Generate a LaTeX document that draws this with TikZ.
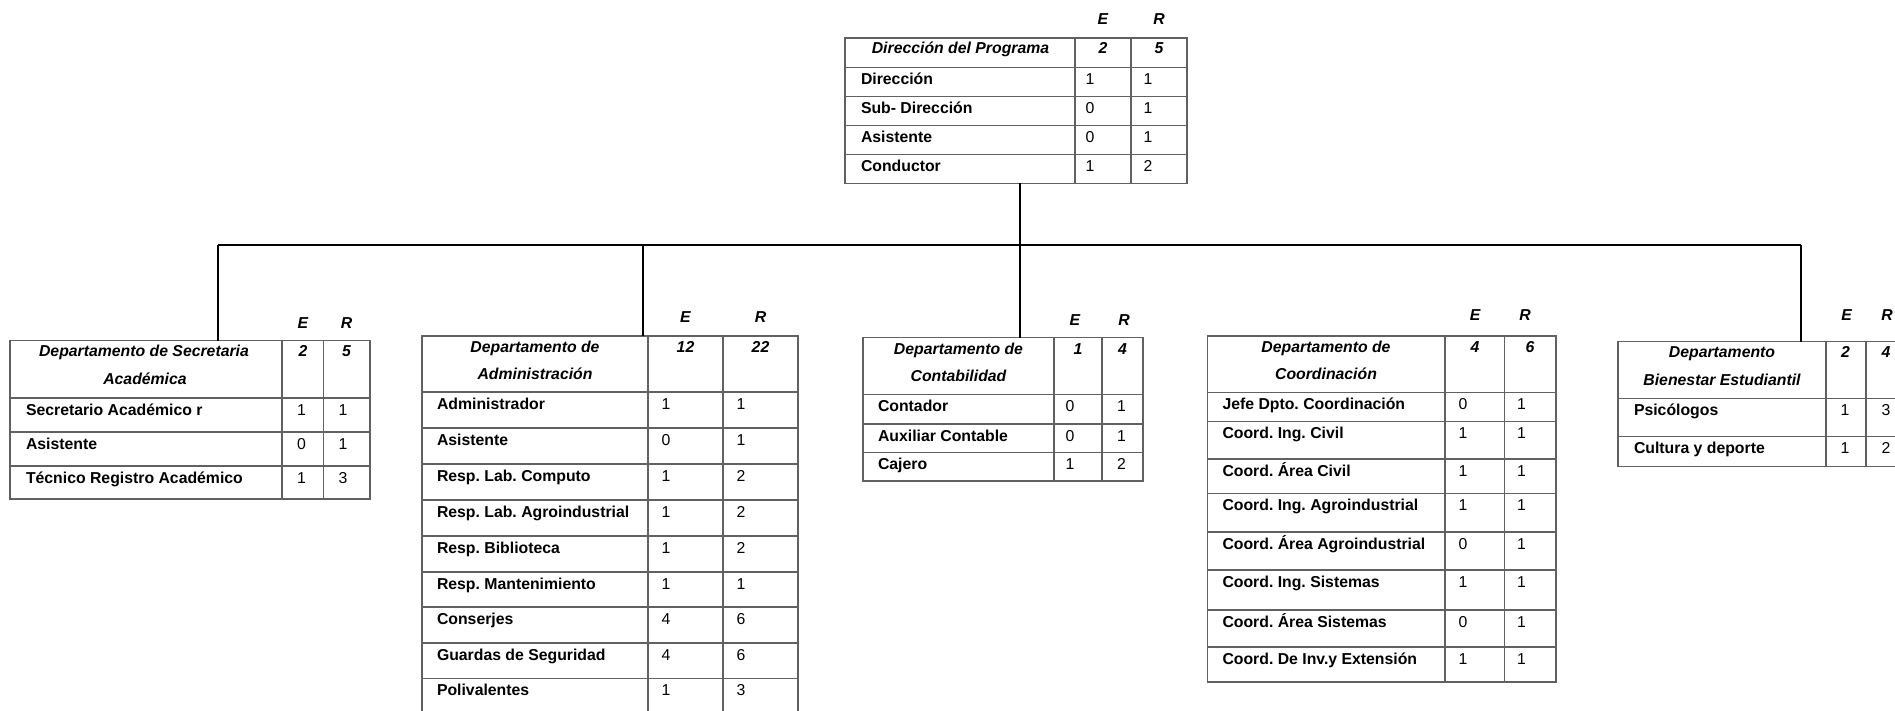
\documentclass[tikz,border=0pt]{standalone}
\usepackage{fontspec}
\setmainfont{Liberation Sans}
\frenchspacing
% grid lines of one table: #1 left, #2 right, #3 top, #4 bottom, #5 column dividers, #6 row lines
\newcommand\tgrid[6]{%
  \foreach \xx in {#5} \draw[grid] (\xx,#3) -- (\xx,#4);
  \foreach \yy in {#6} \draw[grid] (#1,\yy) -- (#2,\yy);
}
% body rows: #1 prefix, #2 x of label, #3 x of E digit, #4 x of R digit, #5 list top/label/E/R
\newcommand\trows[5]{%
  \foreach \yy/\nm/\ee/\rr [count=\i] in {#5} {
    \node[cell] (#1-l\i) at (#2,\yy+17) {\nm};
    \node[num]  (#1-e\i) at (#3,\yy+17) {\ee};
    \node[num]  (#1-r\i) at (#4,\yy+17) {\rr};
  }
}
\begin{document}
\begin{tikzpicture}[x=1pt,y=-1pt,
  every node/.style={inner sep=0pt, outer sep=0pt},
  grid/.style={draw=black!62, line width=1.3pt},
  link/.style={draw=black, line width=2pt},
  bus/.style={draw=black, line width=2.3pt},
  frame/.style={grid, rectangle, anchor=north west},
  hdr/.style={font=\fontsize{15.8}{18}\selectfont\bfseries\itshape, anchor=base},
  cell/.style={font=\fontsize{15.8}{18}\selectfont\bfseries, anchor=base west},
  num/.style={font=\fontsize{15.8}{18}\selectfont, anchor=base},
]
\useasboundingbox (0,0) rectangle (1895,711);
\clip (0,0) rectangle (1895,711);

% ---------- Dirección del Programa ----------
\node[frame, minimum width=342, minimum height=145.5] (dir) at (845,38) {};
\tgrid{845}{1187}{38}{183.5}{1075,1131}{67.5,96.5,125.5,154.5}
\node[hdr] (dir-E) at (1103,24.5) {E};
\node[hdr] (dir-R) at (1159,24.5) {R};
\node[hdr] (dir-h) at (960.5,54) {Dirección del Programa};
\node[hdr] (dir-he) at (1103,54) {2};
\node[hdr] (dir-hr) at (1159,54) {5};
\trows{dir}{861}{1090}{1148}{67.5/Dirección/1/1, 96.5/Sub- Dirección/0/1,
  125.5/Asistente/0/1, 154.5/Conductor/1/2}

% ---------- Secretaría Académica ----------
\node[frame, minimum width=360, minimum height=158.5] (sec) at (10,340.5) {};
\tgrid{10}{370}{340.5}{499}{282,323.5}{398,432,466}
\node[hdr] (sec-E) at (303,328) {E};
\node[hdr] (sec-R) at (346.5,328) {R};
\node[hdr] (sec-h1) at (144,356.5) {Departamento de Secretaria};
\node[hdr] (sec-h2) at (145,384) {Académica};
\node[hdr] (sec-he) at (303,356.5) {2};
\node[hdr] (sec-hr) at (346.5,356.5) {5};
\trows{sec}{26}{301.5}{343}{398/Secretario Académico r/1/1, 432/Asistente/0/1,
  466/Técnico Registro Académico/1/3}

% ---------- Administración ----------
\node[frame, minimum width=376, minimum height=378] (adm) at (422,336) {};
\tgrid{422}{798}{336}{714}{648,723}{392,428,464,500,536,572,607,643,678.5}
\node[hdr] (adm-E) at (685.5,322.5) {E};
\node[hdr] (adm-R) at (760.5,322.5) {R};
\node[hdr] (adm-h1) at (535,352) {Departamento de};
\node[hdr] (adm-h2) at (535,379.5) {Administración};
\node[hdr] (adm-he) at (685.5,352) {12};
\node[hdr] (adm-hr) at (760.5,352) {22};
\trows{adm}{437}{666}{741}{392/Administrador/1/1, 428/Asistente/0/1,
  464/Resp. Lab. Computo/1/2, 500/Resp. Lab. Agroindustrial/1/2,
  536/Resp. Biblioteca/1/2, 572/Resp. Mantenimiento/1/1, 607/Conserjes/4/6,
  643/Guardas de Seguridad/4/6, 678.5/Polivalentes/1/3}

% ---------- Contabilidad ----------
\node[frame, minimum width=280, minimum height=143.5] (con) at (863,337.5) {};
\tgrid{863}{1143}{337.5}{481}{1054,1102}{394.5,424,452.5}
\node[hdr] (con-E) at (1075,325) {E};
\node[hdr] (con-R) at (1124,325) {R};
\node[hdr] (con-h1) at (958.5,354) {Departamento de};
\node[hdr] (con-h2) at (958.5,381.5) {Contabilidad};
\node[hdr] (con-he) at (1078,354) {1};
\node[hdr] (con-hr) at (1122.5,354) {4};
\trows{con}{878}{1070}{1121.5}{394.5/Contador/0/1, 424/Auxiliar Contable/0/1,
  452.5/Cajero/1/2}

% ---------- Coordinación ----------
\node[frame, minimum width=348.5, minimum height=346] (coo) at (1207.5,336) {};
\tgrid{1207.5}{1556}{336}{682}{1445,1504.5}{392.5,421.5,459,493.5,532,570,610,647}
\node[hdr] (coo-E) at (1475,320.7) {E};
\node[hdr] (coo-R) at (1525,320.7) {R};
\node[hdr] (coo-h1) at (1326,352) {Departamento de};
\node[hdr] (coo-h2) at (1326,379.5) {Coordinación};
\node[hdr] (coo-he) at (1475,352) {4};
\node[hdr] (coo-hr) at (1530,352) {6};
\trows{coo}{1222.5}{1463}{1521.5}{392.5/Jefe Dpto. Coordinación/0/1,
  421.5/Coord. Ing. Civil/1/1, 459/Coord. Área Civil/1/1,
  493.5/Coord. Ing. Agroindustrial/1/1, 532/Coord. Área Agroindustrial/0/1,
  570/Coord. Ing. Sistemas/1/1, 610/Coord. Área Sistemas/0/1,
  647/Coord. De Inv.y Extensión/1/1}

% ---------- Bienestar Estudiantil ----------
\node[frame, minimum width=290, minimum height=125] (bie) at (1618,341.5) {};
\tgrid{1618}{1908}{341.5}{466.5}{1826,1866}{398.5,436.5}
\node[hdr] (bie-E) at (1846.5,320.7) {E};
\node[hdr] (bie-R) at (1887,320.7) {R};
\node[hdr] (bie-h1) at (1722,357.5) {Departamento};
\node[hdr] (bie-h2) at (1722,385) {Bienestar Estudiantil};
\node[hdr] (bie-he) at (1845.5,357.5) {2};
\node[hdr] (bie-hr) at (1886,357.5) {4};
\trows{bie}{1634}{1845}{1886}{398.5/Psicólogos/1/3, 436.5/Cultura y deporte/1/2}

% ---------- connectors ----------
\coordinate (busL) at (217.5,245);
\coordinate (busR) at (1800.5,245);
\coordinate (tapA) at (643,245);
\coordinate (tapC) at (1020,245);
\draw[bus] (busL) -- (busR);
\draw[link] (tapC |- dir.south) -- (tapC);
\draw[link] (busL) -- (busL |- sec.north);
\draw[link] (tapA) -- (tapA |- adm.north);
\draw[link] (tapC) -- (tapC |- con.north);
\draw[link] (busR) -- (busR |- bie.north);
\end{tikzpicture}
\end{document}
